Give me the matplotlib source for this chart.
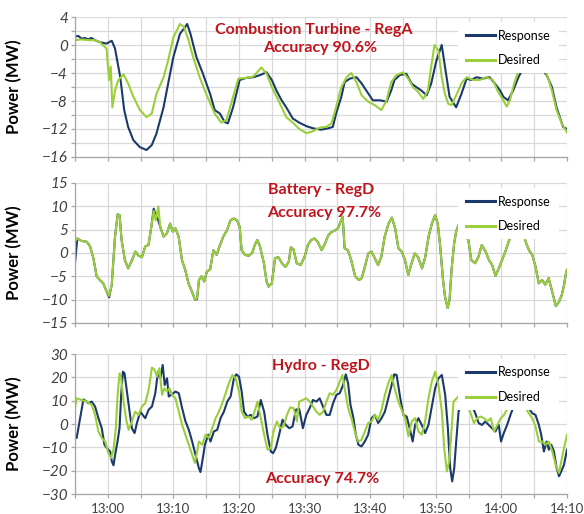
import matplotlib
matplotlib.use("Agg")
import matplotlib.pyplot as plt
from matplotlib.patches import Rectangle
from matplotlib.ticker import MultipleLocator, FixedLocator

plt.rcParams['font.family'] = ['Lato', 'DejaVu Sans']

# time in minutes after 12:55
# ---------- Panel 1: Combustion Turbine - RegA ----------
ct_t_resp = [0, 0.5, 1, 1.5, 2, 2.5, 3, 3.8, 4.8, 5.6, 6.1, 6.9, 7.5, 8.1, 8.9, 9.9, 10.9, 11.7, 12.4, 13.5,
             14.2, 15, 16, 16.8, 17.1, 17.6, 18.5, 19.5, 20.6, 21.3, 22.1, 22.8, 23.3, 24.1, 25.1, 26.1, 27.2, 28.2, 29.2, 30,
             30.7, 31.5, 32.2, 33.2, 34.2, 35.3, 36.3, 37.5, 38.6, 39.3, 39.8, 40.6, 41.1, 41.9, 42.9, 43.7, 44.4, 45.4, 46.5, 47.5,
             48.2, 48.7, 49.5, 50.5, 51.3, 52, 52.8, 53.6, 54.3, 55.1, 55.9, 56.4, 57.1, 58.1, 58.9, 59.7, 60.4, 61.2, 62.2, 63.2,
             64, 64.8, 65.3, 66, 66.8, 67.6, 68.5, 69.5, 70.5, 71.2, 71.9, 72.7, 73.4, 73.9, 74.4, 75]
ct_response = [1.2, 1.3, 0.9, 1.0, 0.8, 1.0, 0.7, 0.4, 0.2, 0.6, -0.5, -4.6, -9.3, -11.7, -13.6, -14.6, -15.0, -14.3, -12.7, -8.9,
               -5.5, -1.7, 1.6, 2.6, 3.0, 1.6, -1.7, -4.1, -7.0, -9.3, -9.8, -11.0, -11.2, -8.9, -5.0, -4.7, -4.6, -4.3, -3.9, -5.0,
               -6.5, -7.9, -8.9, -10.5, -11.1, -11.6, -11.9, -12.1, -11.9, -11.7, -9.8, -7.4, -5.3, -4.8, -4.6, -5.5, -6.5, -7.9, -7.9, -8.1,
               -6.5, -5.0, -4.3, -4.1, -5.5, -6.0, -6.5, -7.2, -5.5, -2.2, 0.0, -3.1, -7.4, -8.9, -7.0, -4.8, -5.0, -4.6, -4.8, -4.6,
               -5.5, -6.5, -7.4, -7.9, -6.5, -4.6, -3.0, -2.5, -2.8, -3.5, -4.3, -6.0, -8.9, -10.3, -11.7, -12.0]
ct_t_des = [0, 1, 2, 3, 3.8, 4.8, 5.2, 5.45, 5.7, 6.1, 6.6, 7.4, 8.1, 8.9, 9.9, 10.9, 11.7, 12.4, 13.5, 14.2,
            15, 16, 16.6, 17.3, 18, 19, 20, 21.3, 22.3, 23.1, 24.1, 24.9, 26.1, 27.2, 28.4, 29.2, 30, 31, 32.2, 33.2,
            34.2, 35.3, 36.3, 37.3, 38.3, 39.1, 39.8, 40.6, 41.4, 42.1, 42.9, 43.7, 44.7, 45.7, 46.7, 47.5, 48.2, 49, 50, 50.8,
            51.5, 52.3, 53.1, 53.8, 54.3, 54.8, 55.4, 55.9, 56.4, 56.9, 57.4, 58.2, 58.9, 59.7, 60.7, 61.7, 62.7, 63.7, 64.5, 65.3,
            65.8, 66.3, 66.8, 67.4, 68.5, 70, 71, 71.9, 72.7, 73.4, 74.2, 75]
ct_desired = [0.7, 0.8, 0.7, 0.7, 0.4, -0.5, -5.0, -3.1, -8.9, -6.5, -5.0, -4.2, -5.5, -7.4, -9.3, -10.3, -9.8, -7.0, -4.6, -2.2,
              1.1, 3.0, 2.6, 0.7, -1.7, -4.6, -7.0, -9.8, -11.1, -10.7, -7.4, -4.8, -4.7, -4.5, -3.2, -4.1, -6.0, -7.9, -10.3, -11.1,
              -12.0, -12.6, -12.3, -11.8, -11.7, -11.2, -8.9, -6.0, -4.6, -4.0, -5.3, -7.2, -8.1, -8.6, -9.3, -7.9, -5.3, -4.3, -3.9, -4.8,
              -6.0, -6.7, -7.7, -6.5, -3.1, 0.0, -0.8, -4.6, -7.0, -8.4, -8.6, -7.0, -5.5, -4.6, -5.0, -5.0, -4.6, -5.0, -6.7, -7.9,
              -8.8, -7.9, -6.0, -4.2, -2.5, -2.0, -3.0, -4.1, -6.5, -9.3, -11.2, -12.5]

# ---------- Panel 2: Battery - RegD ----------
bt_t = [0, 0.35, 1, 1.8, 2.3, 2.8, 3.3, 3.8, 4.3, 4.8, 5.2, 5.6, 6.1, 6.5, 6.8, 7.1, 7.6, 8.1, 8.7, 9.2,
        9.7, 10.2, 10.7, 11.2, 11.6, 12, 12.3, 12.7, 13, 13.5, 14, 14.5, 14.9, 15.3, 15.8, 16.3, 16.8, 17.3, 17.8, 18.3,
        18.6, 18.9, 19.3, 19.7, 20.1, 20.6, 21.1, 21.6, 22.1, 22.6, 23.2, 23.7, 24.2, 24.7, 25.1, 25.4, 25.9, 26.5, 27, 27.4,
        27.8, 28.2, 28.8, 29.2, 29.5, 30, 30.5, 31, 31.6, 32.1, 32.6, 32.9, 33.3, 33.8, 34.4, 35, 35.5, 36, 36.5, 37,
        37.6, 38.1, 38.6, 39.1, 39.6, 40.1, 40.8, 41.1, 41.6, 42.1, 42.7, 43.3, 43.7, 44.2, 44.7, 45.2, 45.7, 46.2, 46.7, 47.2,
        47.8, 48.3, 48.8, 49.3, 49.8, 50.3, 50.8, 51.3, 51.8, 52.3, 52.9, 53.4, 53.9, 54.4, 54.9, 55.3, 55.7, 56.1, 56.4, 56.8,
        57.1, 57.4, 57.8, 58.1, 58.6, 59.3, 60, 60.4, 61, 61.5, 62, 62.6, 63.1, 63.6, 64.1, 64.6, 65.1, 65.6, 66.1, 66.8,
        67.5, 68.2, 68.7, 69.2, 69.7, 70.2, 70.7, 71.2, 71.7, 72.2, 72.8, 73.3, 73.8, 74.2, 74.5, 74.85, 75]
bt_response = [-2.2, 3.1, 2.6, 2.4, 1.4, -1.1, -5.0, -5.8, -6.5, -8.2, -9.5, -6.8, 3.5, 8.3, 8.1, 2.8, -1.5, -3.3, -1.5, 0.3,
               -0.6, -0.9, 1.4, 1.7, 5.3, 9.5, 8.0, 7.0, 5.6, 3.5, 4.2, 6.3, 4.6, 5.3, 3.5, -1.5, -3.6, -6.5, -8.2, -10.0,
               -9.9, -5.8, -5.0, -6.1, -4.0, -3.5, 0.6, -0.4, 1.7, 3.5, 5.0, 7.0, 7.4, 7.0, 5.6, 0.6, -0.4, -0.6, 0.0, 1.7,
               2.8, 1.4, -2.2, -6.1, -7.2, -6.5, -1.1, -0.9, -2.3, -3.0, -1.8, 1.2, 0.8, -2.2, -2.6, -0.8, 1.7, 2.8, 3.1, 2.4,
               0.6, 2.0, 3.8, 4.5, 4.8, 5.3, 7.8, 1.0, 0.6, -1.5, -5.0, -5.8, -5.4, -2.9, -0.1, 0.3, -1.1, -2.6, -0.8, 3.5,
               6.3, 7.6, 5.3, 1.0, 0.3, -1.5, -4.7, -2.2, -0.1, -0.9, -3.3, -0.8, 3.5, 6.3, 8.1, 6.3, 1.0, -5.8, -9.3, -11.8,
               -10.0, -3.6, 2.1, 4.6, 6.5, 5.5, 2.4, -1.5, -2.2, -0.8, 1.7, 0.3, -1.5, -2.6, -4.9, -3.3, -1.5, 0.3, 2.4, 5.0,
               6.0, 5.0, 2.4, 0.6, -0.4, -2.9, -6.5, -5.8, -6.8, -5.4, -8.6, -11.4, -10.4, -9.0, -7.2, -4.3, -3.6]
bt_desired = [2.5, 3.1, 2.6, 2.4, 1.4, -1.1, -5.0, -5.8, -6.5, -8.2, -9.2, -6.8, 3.5, 8.3, 8.1, 2.8, -1.5, -3.3, -1.5, 0.3,
              -0.6, -0.9, 1.4, 1.7, 5.3, 9.0, 7.0, 10.0, 5.6, 3.5, 4.2, 6.3, 4.6, 5.3, 3.5, -1.5, -3.6, -6.5, -8.2, -10.0,
              -9.7, -5.8, -5.0, -6.1, -4.0, -3.5, 0.6, -0.4, 1.7, 3.5, 5.0, 7.0, 7.4, 7.0, 5.6, 0.6, -0.4, -0.6, 0.0, 1.7,
              2.8, 1.4, -2.2, -6.1, -7.2, -6.5, -1.1, -0.9, -2.3, -3.0, -1.8, 1.2, 0.8, -2.2, -2.6, -0.8, 1.7, 2.8, 3.1, 2.4,
              0.6, 2.0, 3.8, 4.5, 4.8, 5.3, 7.8, 1.0, 0.6, -1.5, -5.0, -5.8, -5.4, -2.9, -0.1, 0.3, -1.1, -2.6, -0.8, 3.5,
              6.3, 7.6, 5.3, 1.0, 0.3, -1.5, -4.7, -2.2, -0.1, -0.9, -3.3, -0.8, 3.5, 6.3, 8.1, 6.3, 1.0, -5.8, -9.3, -11.8,
              -10.0, -3.6, 2.1, 4.6, 6.5, 5.5, 2.4, -1.5, -2.2, -0.8, 1.7, 0.3, -1.5, -2.6, -4.9, -3.3, -1.5, 0.3, 2.4, 5.0,
              6.0, 5.0, 2.4, 0.6, -0.4, -2.9, -6.5, -5.8, -6.8, -5.4, -8.6, -11.4, -10.4, -9.0, -7.2, -4.3, -3.6]

# ---------- Panel 3: Hydro - RegD ----------
hy_t_resp = [0, 0.25, 1.28, 1.79, 2.04, 2.55, 3.06, 3.57, 4.08, 4.49, 4.85, 5.36, 5.61, 5.87, 6.12, 6.48, 6.79, 7.04, 7.3, 7.55,
             7.91, 8.32, 8.67, 9.08, 9.44, 9.95, 10.31, 10.71, 11.22, 11.73, 12.24, 12.65, 13.01, 13.37, 13.67, 14.03, 14.29, 14.69, 15.31, 15.82,
             16.33, 16.84, 17.35, 17.86, 18.37, 18.88, 19.13, 19.49, 19.8, 20.31, 20.66, 21.17, 21.68, 22.19, 22.7, 23.21, 23.72, 24.23, 24.59, 25,
             25.41, 25.77, 26.28, 26.79, 27.3, 27.81, 28.32, 28.83, 29.34, 29.85, 30.2, 30.61, 31.12, 31.63, 32.14, 32.65, 33.16, 33.67, 34.18, 34.74,
             35.26, 35.77, 36.28, 36.79, 37.3, 37.81, 38.32, 38.83, 39.34, 39.85, 40.36, 40.87, 41.28, 41.63, 41.99, 42.4, 42.81, 43.21, 43.67, 44.18,
             44.69, 45.2, 45.71, 46.22, 46.73, 47.24, 47.76, 48.27, 48.67, 49.03, 49.54, 50.05, 50.56, 51.07, 51.48, 51.84, 52.35, 52.86, 53.37, 53.88,
             54.39, 54.9, 55.41, 55.92, 56.43, 56.84, 57.19, 57.5, 57.81, 58.11, 58.47, 59.2, 60.2, 61.02, 61.53, 62.04, 62.55, 63.06, 63.57, 64.08,
             64.59, 64.95, 65.36, 65.87, 66.38, 67.2, 68.5, 69.69, 70.2, 70.71, 71.07, 71.48, 71.89, 72.24, 72.6, 73.01, 73.42, 73.78, 74.13, 74.54, 75]
hy_response = [-4.6, -6.0, 10.5, 9.6, 8.9, 9.6, 7.5, 2.5, -1.8, -8.9, -10.3, -11.8, -16.0, -17.7, -13.2, -7.5, -1.8, 12.5, 22.4, 21.7,
               13.9, 5.3, -1.8, -3.9, 0.4, 5.3, 3.9, 2.5, 6.1, 7.5, 13.2, 22.4, 19.6, 25.3, 16.7, 19.6, 11.8, 12.5, 13.9, 13.2,
               6.8, 1.1, -2.5, -7.5, -13.2, -18.9, -20.6, -14.6, -8.9, -4.6, -7.5, -3.2, -2.5, 2.5, 5.3, 9.6, 11.8, 19.6, 21.3, 20.3,
               13.9, 5.3, 3.2, 3.9, 2.5, 3.2, 10.3, 5.3, -4.6, -11.8, -12.5, -10.3, -4.6, 1.8, -0.4, -1.8, -1.1, 6.1, 6.5, -1.8,
               3.9, 6.8, 10.3, 9.6, 11.0, 7.5, 3.9, 3.9, 8.9, 12.5, 13.2, 16.7, 21.3, 17.5, 8.2, 3.2, -4.6, -8.9, -9.6, -7.5,
               -4.6, 2.5, 3.9, 0.4, 2.5, 5.3, 11.0, 16.7, 21.3, 21.0, 11.8, 3.9, 3.2, -2.5, -7.5, -0.4, 2.5, -0.4, -3.9, -0.4,
               7.5, 15.3, 19.6, 21.0, 12.5, -1.8, -18.9, -24.6, -18.9, -7.5, 5.3, 12.0, 10.0, 4.6, 0.4, -0.4, 1.1, -0.4, -1.8, -3.2,
               -0.4, -7.5, -3.9, -0.4, 3.9, 10.0, 10.0, 4.6, 3.9, -0.4, -4.6, -11.8, -7.5, -11.0, -8.9, -11.8, -18.9, -22.4, -20.3, -17.5, -11.0]
hy_t_des = [0, 0.25, 1.0, 1.79, 2.55, 3.06, 3.57, 4.08, 4.6, 5.1, 5.5, 5.87, 6.22, 6.53, 6.79, 7.04, 7.4, 7.81, 8.17, 8.67,
            9.18, 9.69, 10.2, 10.71, 11.22, 11.73, 12.14, 12.5, 12.86, 13.27, 13.62, 14.03, 14.39, 14.8, 15.31, 15.82, 16.33, 16.84, 17.35, 17.86,
            18.27, 18.62, 18.88, 19.39, 19.9, 20.41, 20.92, 21.43, 21.94, 22.45, 22.96, 23.47, 23.98, 24.49, 25, 25.41, 25.92, 26.43, 26.94, 27.45,
            27.81, 28.32, 28.83, 29.34, 29.85, 30.25, 30.77, 31.28, 31.79, 32.3, 32.81, 33.32, 33.83, 34.18, 35.26, 35.77, 36.28, 36.79, 37.3, 37.81,
            38.32, 38.83, 39.34, 39.85, 40.36, 40.77, 41.12, 41.63, 42.14, 42.65, 43.16, 43.67, 44.18, 44.69, 45.2, 45.71, 46.22, 46.73, 47.24, 47.76,
            48.27, 48.78, 49.29, 49.8, 50.31, 50.82, 51.33, 51.84, 52.35, 52.86, 53.37, 53.88, 54.39, 54.9, 55.41, 55.92, 56.28, 56.68, 57.04, 57.35,
            57.7, 58.5, 59.5, 60.31, 60.82, 61.33, 61.84, 62.35, 62.86, 63.37, 63.88, 64.39, 64.9, 65.41, 66.5, 68.0, 69.18, 69.69, 70.2, 70.71,
            71.22, 71.73, 72.24, 72.76, 73.27, 73.78, 74.13, 74.54, 75]
hy_desired = [6.8, 11.0, 10.3, 9.6, 8.2, 3.9, -3.2, -6.0, -7.5, -12.5, -14.6, -11.0, -1.8, 13.9, 21.7, 19.6, 9.6, 1.8, -2.5, 1.1,
              5.3, 3.9, 7.5, 8.9, 14.6, 24.2, 23.2, 20.3, 23.9, 12.5, 15.3, 13.9, 15.3, 12.5, 11.0, 5.3, -0.4, -4.6, -8.9, -13.2,
              -16.7, -11.8, -7.5, -8.9, -4.6, -6.0, -1.8, 2.5, 5.3, 8.9, 13.2, 17.5, 21.0, 19.6, 13.9, 5.3, 2.5, 3.2, 1.8, 6.1,
              9.6, 2.5, -4.6, -11.0, -10.3, -3.2, 1.1, -1.8, -1.1, 3.9, 7.1, 6.8, 1.1, 9.6, 11.0, 9.6, 7.5, 5.3, 3.9, 5.3,
              9.6, 13.2, 12.5, 14.6, 18.2, 21.0, 15.3, 6.8, 2.5, -3.2, -7.5, -6.8, -3.2, 0.4, 1.1, 3.9, 1.8, 6.1, 12.5, 17.5,
              21.0, 14.6, 9.6, 6.1, 2.5, -5.3, 1.1, 2.5, -3.2, -4.6, 1.1, 11.0, 18.2, 22.4, 16.7, 5.3, -10.3, -20.3, -16.0, -4.6,
              9.6, 12.0, 10.0, 4.6, 0.4, 2.5, 3.2, 2.5, 1.1, 2.5, -3.2, -0.4, 2.5, 3.9, 10.0, 10.0, 4.6, 2.5, -1.1, -7.5,
              -7.5, -8.9, -7.5, -11.8, -17.5, -21.0, -16.0, -10.3, -4.6]

# ---------- labels ----------
x_tick_pos = [5, 15, 25, 35, 45, 55, 65, 75]
x_tick_labels = ['13:00', '13:10', '13:20', '13:30', '13:40', '13:50', '14:00', '14:10']
titles = ['Combustion Turbine - RegA', 'Battery - RegD', 'Hydro - RegD']
accuracies = ['Accuracy 90.6%', 'Accuracy 97.7%', 'Accuracy 74.7%']

RESP_C = '#1B3A6B'
DES_C = '#9BCF3A'
TXT_C = '#C0141C'
GRID_C = '#D9D9D9'
AX_C = '#A6A6A6'

fig = plt.figure(figsize=(5.84, 5.14), dpi=100)
L, W, H = 75 / 584, 492 / 584, 140 / 514
tops = [17, 183, 354]
ylims = [(-16, 4), (-15, 15), (-30, 30)]
ymaj = [4, 5, 10]
ymin = [2, 5, 10]
series = [(ct_t_resp, ct_response, ct_t_des, ct_desired),
          (bt_t, bt_response, bt_t, bt_desired),
          (hy_t_resp, hy_response, hy_t_des, hy_desired)]
title_pos = [((314, 30), (320, 48)), ((321, 190), (324, 213)), ((321, 366), (322, 479))]

for i in range(3):
    ax = fig.add_axes([L, 1 - (tops[i] + 140) / 514, W, H])
    tr, vr, td, vd = series[i]
    ax.plot(tr, vr, color=RESP_C, lw=1.5, zorder=2, label='Response')
    ax.plot(td, vd, color=DES_C, lw=1.5, zorder=2.1, label='Desired')
    ax.set_xlim(0, 75)
    ax.set_ylim(*ylims[i])
    ax.yaxis.set_major_locator(MultipleLocator(ymaj[i]))
    ax.yaxis.set_minor_locator(MultipleLocator(ymin[i]))
    ax.xaxis.set_major_locator(FixedLocator(x_tick_pos))
    ax.xaxis.set_minor_locator(MultipleLocator(5))
    ax.grid(True, which='both', color=GRID_C, lw=0.9, zorder=0)
    ax.set_axisbelow(True)
    for s in ['top', 'right']:
        ax.spines[s].set_visible(False)
    for s in ['left', 'bottom']:
        ax.spines[s].set_color(AX_C)
        ax.spines[s].set_linewidth(0.9)
    ax.tick_params(axis='both', which='both', length=3, color=AX_C, width=0.9)
    for lab in ax.get_yticklabels():
        lab.set_fontstyle('italic')
        lab.set_fontsize(11)
        lab.set_color('#404040')
    ax.tick_params(axis='y', pad=2)
    if i == 2:
        ax.set_xticklabels(x_tick_labels, fontsize=9.5, color='#404040')
    else:
        ax.set_xticklabels([])
    ax.set_ylabel('Power (MW)', fontsize=12, fontweight='bold', labelpad=4)
    ax.yaxis.set_label_coords(-0.108, 0.5)
    # white legend box
    ax.add_patch(Rectangle((0.778, 0.60), 0.205, 0.365, transform=ax.transAxes,
                           facecolor='white', edgecolor='none', zorder=4))
    leg = ax.legend(loc='upper left', bbox_to_anchor=(0.77, 1.0), frameon=False,
                    fontsize=9, handlelength=2.3, handletextpad=0.2, labelspacing=1.0,
                    borderpad=0.5)
    leg.set_zorder(5)
    for h in leg.get_lines():
        h.set_linewidth(2.2)
    (tx1, ty1), (tx2, ty2) = title_pos[i]
    fig.text(tx1 / 584, 1 - ty1 / 514, titles[i], color=TXT_C, fontsize=11.5, fontweight='bold',
             ha='center', va='center')
    fig.text(tx2 / 584, 1 - ty2 / 514, accuracies[i], color=TXT_C, fontsize=11.5, fontweight='bold',
             ha='center', va='center')

fig.savefig('out.png', dpi=100)
